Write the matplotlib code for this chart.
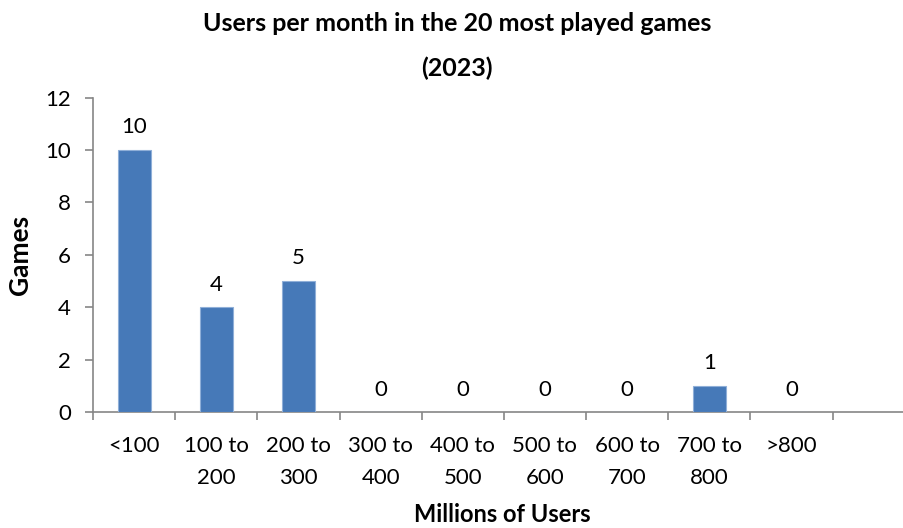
import matplotlib

matplotlib.use("Agg")

import matplotlib.pyplot as plt


categories = ["<100", "100 to\n200", "200 to\n300", "300 to\n400", "400 to\n500",
              "500 to\n600", "600 to\n700", "700 to\n800", ">800"]
games = [10, 4, 5, 0, 0, 0, 0, 1, 0]
y_ticks = [0, 2, 4, 6, 8, 10, 12]

plt.rcParams["font.family"] = ["Lato", "DejaVu Sans"]

fig = plt.figure(figsize=(9.04, 5.28), dpi=100)
ax = fig.add_axes([93 / 904, 1 - 412 / 528, 1 - 93 / 904, (412 - 97.5) / 528])

x = list(range(len(categories)))
ax.bar(x, games, width=0.4, color="#4679B8", edgecolor="#8FAFD8", linewidth=0.8, zorder=3)

# value labels above each bar
for xi, v in zip(x, games):
    ax.annotate(str(v), (xi, v), xytext=(0, 9), textcoords="offset points",
                ha="center", va="bottom", fontsize=16)

# one extra empty slot on the right, cut off by the figure edge
ax.set_xlim(-0.5, 9.37)
ax.set_ylim(0, 12)
ax.set_yticks(y_ticks)
ax.set_xticks(x)
ax.set_xticklabels(categories, fontsize=16, linespacing=1.75)
ax.set_xticks([i - 0.5 for i in range(len(categories) + 1)], minor=True)
ax.tick_params(axis="x", which="major", length=0, pad=17)
ax.tick_params(axis="x", which="minor", length=6, direction="out", color="#868686", width=1.2)
ax.tick_params(axis="y", length=6, direction="out", color="#868686", width=1.2,
               labelsize=16, pad=10)

for side in ["top", "right"]:
    ax.spines[side].set_visible(False)
for side in ["left", "bottom"]:
    ax.spines[side].set_color("#868686")
    ax.spines[side].set_linewidth(1.2)

fig.text(0.506, 0.955, "Users per month in the 20 most played games", ha="center", va="center",
         fontsize=18, fontweight="bold")
fig.text(0.505, 0.871, "(2023)", ha="center", va="center", fontsize=18, fontweight="bold")
fig.text(0.022, 0.517, "Games", ha="center", va="center", rotation=90,
         fontsize=19, fontweight="bold")
fig.text(0.556, 0.026, "Millions of Users", ha="center", va="center",
         fontsize=17, fontweight="bold")

fig.savefig("out.png", dpi=100)
